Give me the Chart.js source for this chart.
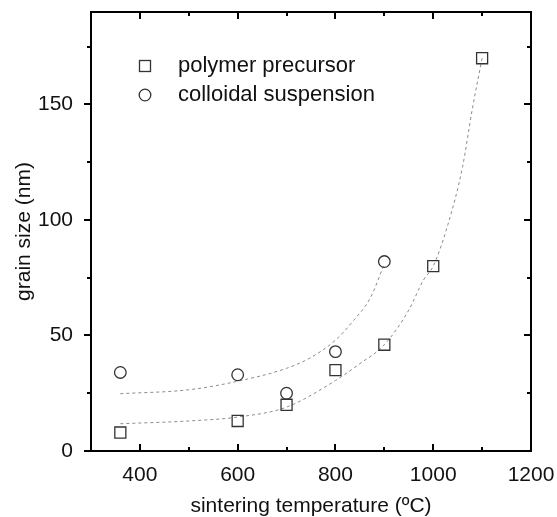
<!DOCTYPE html>
<html>
<head>
<meta charset="utf-8">
<script src="https://cdn.jsdelivr.net/npm/chart.js@4.4.1/dist/chart.umd.min.js"></script>
<style>
  html, body { margin: 0; padding: 0; background: #fff; }
  #wrap { width: 557px; height: 517px; }
</style>
</head>
<body>
<div id="wrap"><canvas id="chart" width="557" height="517"></canvas></div>
<script>
// measured points
const polymerTemps = [360, 600, 700, 800, 900, 1000, 1100];
const polymerSize = [8, 13, 20, 35, 46, 80, 170];
const colloidTemps = [360, 600, 700, 800, 900];
const colloidSize = [34, 33, 25, 43, 82];

// fitted curves
const polymerFitTemps = [360, 500, 600, 700, 800, 850, 900, 950, 980, 1000, 1030, 1060, 1080, 1100];
const polymerFitSize = [11.8, 13, 14.7, 19, 30.5, 37.8, 46, 61, 74, 80, 98, 123, 148, 170];
const colloidFitTemps = [360, 500, 600, 700, 750, 800, 837, 872, 900];
const colloidFitSize = [24.8, 26.5, 30.2, 35.8, 40.5, 48, 56.5, 66.5, 81];

// axes
const xTickLabels = [400, 600, 800, 1000, 1200];
const xMinorTicks = [500, 700, 900, 1100];
const yTickLabels = [0, 50, 100, 150];
const yMinorTicks = [25, 75, 125, 175];
const legendLabels = ['polymer precursor', 'colloidal suspension'];

const FONT = "'Liberation Sans', Arial, sans-serif";
const pts = (xs, ys) => xs.map((x, i) => ({ x: x, y: ys[i] }));

// frame with inward ticks (left side outward) + legend inside the plot
const framePlugin = {
  id: 'frame',
  afterDraw(chart) {
    const { ctx, chartArea: a, scales } = chart;
    const x = scales.x, y = scales.y;
    ctx.save();
    ctx.strokeStyle = '#000';
    ctx.lineWidth = 2;
    ctx.strokeRect(a.left, a.top, a.right - a.left, a.bottom - a.top);
    ctx.beginPath();
    const tickX = (v, len) => {
      const px = Math.round(x.getPixelForValue(v));
      ctx.moveTo(px, a.bottom); ctx.lineTo(px, a.bottom - len);
      ctx.moveTo(px, a.top); ctx.lineTo(px, a.top + len);
    };
    const tickY = (v, len) => {
      const py = Math.round(y.getPixelForValue(v));
      ctx.moveTo(a.left, py); ctx.lineTo(a.left - len, py);
      ctx.moveTo(a.right, py); ctx.lineTo(a.right - len, py);
    };
    xTickLabels.forEach(v => tickX(v, 7));
    xMinorTicks.forEach(v => tickX(v, 4));
    yTickLabels.forEach(v => tickY(v, 7));
    yMinorTicks.forEach(v => tickY(v, 4));
    ctx.stroke();

    // legend
    ctx.strokeStyle = '#333';
    ctx.lineWidth = 1.3;
    ctx.strokeRect(a.left + 48.5, a.top + 48.5, 11, 11);
    ctx.beginPath();
    ctx.arc(a.left + 54, a.top + 83, 5.8, 0, Math.PI * 2);
    ctx.stroke();
    ctx.fillStyle = '#111';
    ctx.font = '22px ' + FONT;
    ctx.textBaseline = 'middle';
    ctx.fillText(legendLabels[0], a.left + 87, a.top + 54);
    ctx.fillText(legendLabels[1], a.left + 87, a.top + 83);
    ctx.restore();
  }
};

const markerStyle = {
  borderColor: '#333',
  borderWidth: 1.3,
  backgroundColor: 'rgba(0,0,0,0)',
  showLine: false
};
const fitStyle = {
  borderColor: '#8a8a8a',
  borderWidth: 1,
  borderDash: [3, 3],
  pointRadius: 0,
  showLine: true,
  fill: false,
  cubicInterpolationMode: 'monotone'
};

new Chart(document.getElementById('chart'), {
  type: 'scatter',
  data: {
    datasets: [
      Object.assign({ label: legendLabels[0], data: pts(polymerTemps, polymerSize), pointStyle: 'rect', pointRadius: 7.8 }, markerStyle),
      Object.assign({ label: legendLabels[1], data: pts(colloidTemps, colloidSize), pointStyle: 'circle', pointRadius: 5.8 }, markerStyle),
      Object.assign({ label: 'polymer fit', data: pts(polymerFitTemps, polymerFitSize) }, fitStyle),
      Object.assign({ label: 'colloid fit', data: pts(colloidFitTemps, colloidFitSize) }, fitStyle)
    ]
  },
  options: {
    responsive: false,
    animation: false,
    layout: { padding: { top: 12, right: 26, left: 0, bottom: 0 } },
    plugins: { legend: { display: false }, tooltip: { enabled: false } },
    scales: {
      x: {
        type: 'linear', min: 300, max: 1200,
        grid: { display: false },
        border: { display: false },
        afterBuildTicks: s => { s.ticks = xTickLabels.map(v => ({ value: v })); },
        afterFit: s => { s.height = 66; s.paddingLeft = 0; s.paddingRight = 0; },
        ticks: { color: '#111', padding: 4, maxRotation: 0, callback: v => String(v), font: { family: FONT, size: 21 } },
        title: { display: true, text: 'sintering temperature (ºC)', color: '#111', padding: { top: 0, bottom: 0 }, font: { family: FONT, size: 21, lineHeight: 1.0 } }
      },
      y: {
        type: 'linear', min: 0, max: 190,
        grid: { display: false },
        border: { display: false },
        afterBuildTicks: s => { s.ticks = yTickLabels.map(v => ({ value: v })); },
        afterFit: s => { s.width = 91; s.paddingTop = 0; s.paddingBottom = 0; },
        ticks: { color: '#111', padding: 10, callback: v => String(v), font: { family: FONT, size: 21 } },
        title: { display: true, text: 'grain size (nm)', color: '#111', padding: { top: 12, bottom: 0 }, font: { family: FONT, size: 21, lineHeight: 1.2 } }
      }
    }
  },
  plugins: [framePlugin]
});
</script>
</body>
</html>
